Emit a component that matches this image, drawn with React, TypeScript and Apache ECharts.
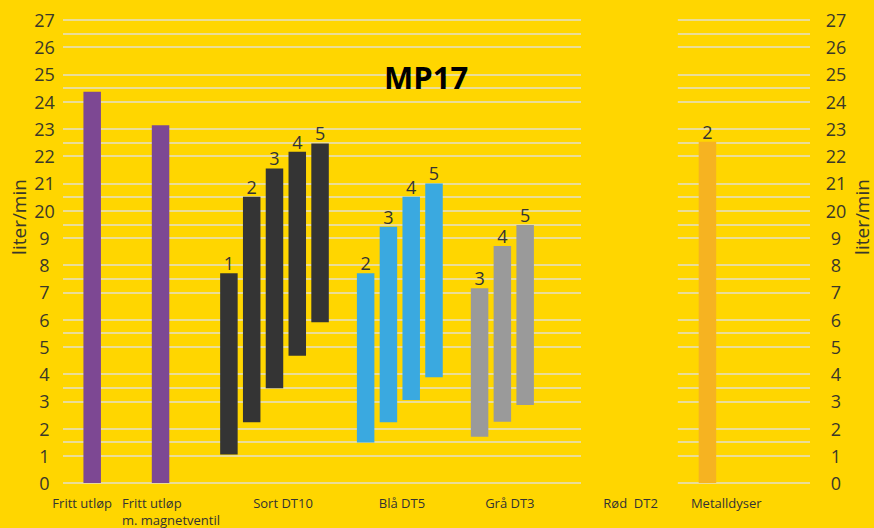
import React, { useEffect, useRef } from 'react';
import * as echarts from 'echarts';

// ---------- data ----------
const Y_TICK_LABELS = ['0', '1', '2', '3', '4', '5', '6', '7', '8', '9', '20', '21', '22', '23', '24', '25', '26', '27'];
const GRID_LEVELS = [0, 1, 1.5, 2, 3, 3.5, 4, 5, 5.5, 6, 7, 7.5, 8, 9, 9.5, 10, 10.5, 11, 12, 12.5, 13, 14, 14.5, 15, 16, 16.5, 17];

const GROUP_NAMES = ['Fritt utløp', 'Fritt utløp\nm. magnetventil', 'Sort DT10', 'Blå DT5', 'Grå DT3', 'Rød  DT2', 'Metalldyser'];

const FRITT_SIZES = [''];
const FRITT_MIN = [0];
const FRITT_MAX = [14.37];

const MAGNET_SIZES = [''];
const MAGNET_MIN = [0];
const MAGNET_MAX = [13.14];

const SORT_SIZES = ['1', '2', '3', '4', '5'];
const SORT_MIN = [1.05, 2.23, 3.48, 4.67, 5.9];
const SORT_MAX = [7.7, 10.51, 11.55, 12.16, 12.47];

const BLA_SIZES = ['2', '3', '4', '5'];
const BLA_MIN = [1.49, 2.23, 3.05, 3.88];
const BLA_MAX = [7.7, 9.41, 10.51, 11.0];

const GRA_SIZES = ['3', '4', '5'];
const GRA_MIN = [1.7, 2.25, 2.86];
const GRA_MAX = [7.15, 8.7, 9.47];

const ROD_SIZES: string[] = [];
const ROD_MIN: number[] = [];
const ROD_MAX: number[] = [];

const METALL_SIZES = ['2'];
const METALL_MIN = [0];
const METALL_MAX = [12.53];

// ---------- layout & style ----------
const SLOT_COUNT = 33;
const GROUP_FIRST_SLOT = [1, 4, 7, 13, 18, 23, 28];
const LABEL_SLOT = [1, 2, 9, 14, 19, 25, 29];
const LABEL_STYLE: any[] = [
  { align: 'center', padding: [0, 20, 0, 0] },
  { align: 'left', padding: [0, 0, 0, 7] },
  { align: 'center', padding: [0, 0, 0, 17] },
  { align: 'center', padding: [0, 0, 0, 27] },
  { align: 'center', padding: [0, 0, 0, 15] },
  { align: 'center', padding: [0, 17, 0, 0] },
  { align: 'center', padding: [0, 8, 0, 0] },
];
const GROUP_COLORS = ['#7D4893', '#7D4893', '#343434', '#3AA9E0', '#9A9A9A', '#D83A2E', '#F6B321'];
const GRID_X_START = 0.22;
const GRID_GAP = [22.95, 27.2];
const BG = '#FFD600';
const TEXT = '#3a382a';
const FONT = 'Open Sans';

export default function App() {
  const ref = useRef<HTMLDivElement>(null);

  useEffect(() => {
    if (!ref.current) return;
    const chart = echarts.init(ref.current, undefined, { renderer: 'svg' });

    const groups = [
      { sizes: FRITT_SIZES, min: FRITT_MIN, max: FRITT_MAX },
      { sizes: MAGNET_SIZES, min: MAGNET_MIN, max: MAGNET_MAX },
      { sizes: SORT_SIZES, min: SORT_MIN, max: SORT_MAX },
      { sizes: BLA_SIZES, min: BLA_MIN, max: BLA_MAX },
      { sizes: GRA_SIZES, min: GRA_MIN, max: GRA_MAX },
      { sizes: ROD_SIZES, min: ROD_MIN, max: ROD_MAX },
      { sizes: METALL_SIZES, min: METALL_MIN, max: METALL_MAX },
    ];

    const base: any[] = new Array(SLOT_COUNT).fill('-');
    const range: any[] = new Array(SLOT_COUNT).fill('-');
    const slotSize: string[] = new Array(SLOT_COUNT).fill('');
    groups.forEach((g, gi) => {
      g.min.forEach((lo, bi) => {
        const s = GROUP_FIRST_SLOT[gi] + bi;
        base[s] = lo;
        range[s] = { value: +(g.max[bi] - lo).toFixed(3), itemStyle: { color: GROUP_COLORS[gi] } };
        slotSize[s] = g.sizes[bi];
      });
    });

    const slotLabel: string[] = new Array(SLOT_COUNT).fill('');
    const catData: any[] = [];
    for (let i = 0; i < SLOT_COUNT; i++) catData.push({ value: 's' + i });
    GROUP_NAMES.forEach((n, gi) => {
      slotLabel[LABEL_SLOT[gi]] = n;
      catData[LABEL_SLOT[gi]] = { value: 's' + LABEL_SLOT[gi], textStyle: LABEL_STYLE[gi] };
    });

    const gridSegments: any[] = [];
    GRID_LEVELS.forEach((y) => {
      gridSegments.push([{ coord: [GRID_X_START, y] }, { coord: [GRID_GAP[0], y] }]);
      gridSegments.push([{ coord: [GRID_GAP[1], y] }, { coord: [SLOT_COUNT, y] }]);
    });

    const yAxisCommon = {
      type: 'value',
      min: 0,
      max: Y_TICK_LABELS.length - 1,
      interval: 1,
      axisLine: { show: false },
      axisTick: { show: false },
      splitLine: { show: false },
      name: 'liter/min',
      nameLocation: 'middle',
      nameRotate: 90,
      nameMoveOverlap: false,
      nameTextStyle: { fontSize: 19, color: TEXT, fontFamily: FONT, padding: [0, 0, 0, 69] },
    };

    chart.setOption({
      animation: false,
      backgroundColor: BG,
      title: {
        text: 'MP17',
        left: 384,
        top: 61,
        padding: 0,
        textStyle: { fontSize: 31, fontWeight: 'bold', color: '#000', fontFamily: FONT },
      },
      grid: { left: 58, right: 64, top: 20, bottom: 45, containLabel: false, outerBoundsMode: 'none' },
      xAxis: [
        {
          type: 'category',
          data: catData,
          boundaryGap: true,
          axisLine: { show: false },
          axisTick: { show: false },
          splitLine: { show: false },
          axisLabel: {
            interval: 0,
            margin: 12,
            fontSize: 13,
            lineHeight: 16.5,
            color: '#333',
            fontFamily: FONT,
            formatter: (_v: string, idx: number) => slotLabel[idx] || '',
          },
        },
        { type: 'value', min: 0, max: SLOT_COUNT, show: false },
      ],
      yAxis: [
        {
          ...yAxisCommon,
          position: 'left',
          nameGap: 30,
          axisLabel: {
            align: 'center',
            margin: 13.5,
            fontSize: 18,
            color: TEXT,
            fontFamily: FONT,
            formatter: (v: number) => Y_TICK_LABELS[Math.round(v)] ?? '',
          },
        },
        {
          ...yAxisCommon,
          position: 'right',
          nameGap: 42,
          axisLabel: {
            align: 'center',
            margin: 26,
            fontSize: 18,
            color: TEXT,
            fontFamily: FONT,
            formatter: (v: number) => Y_TICK_LABELS[Math.round(v)] ?? '',
          },
        },
      ],
      series: [
        {
          type: 'scatter',
          xAxisIndex: 1,
          yAxisIndex: 0,
          data: [],
          silent: true,
          z: 1,
          markLine: {
            silent: true,
            symbol: ['none', 'none'],
            label: { show: false },
            emphasis: { disabled: true },
            lineStyle: { color: '#EADD98', width: 1.8, type: 'solid' },
            data: gridSegments,
          },
        },
        {
          type: 'bar',
          stack: 'r',
          xAxisIndex: 0,
          yAxisIndex: 0,
          barWidth: 17.5,
          silent: true,
          z: 10,
          itemStyle: { color: 'transparent' },
          data: base,
        },
        {
          type: 'bar',
          stack: 'r',
          xAxisIndex: 0,
          yAxisIndex: 0,
          barWidth: 17.5,
          silent: true,
          z: 10,
          data: range,
          label: {
            show: true,
            position: 'top',
            distance: 1,
            fontSize: 18,
            color: '#333',
            fontFamily: FONT,
            formatter: (p: any) => slotSize[p.dataIndex] || '',
          },
        },
      ],
    });

    return () => chart.dispose();
  }, []);

  return (
    <div
      ref={ref}
      style={{ position: 'fixed', left: 0, top: 0, width: 874, height: 528, background: BG }}
    />
  );
}
